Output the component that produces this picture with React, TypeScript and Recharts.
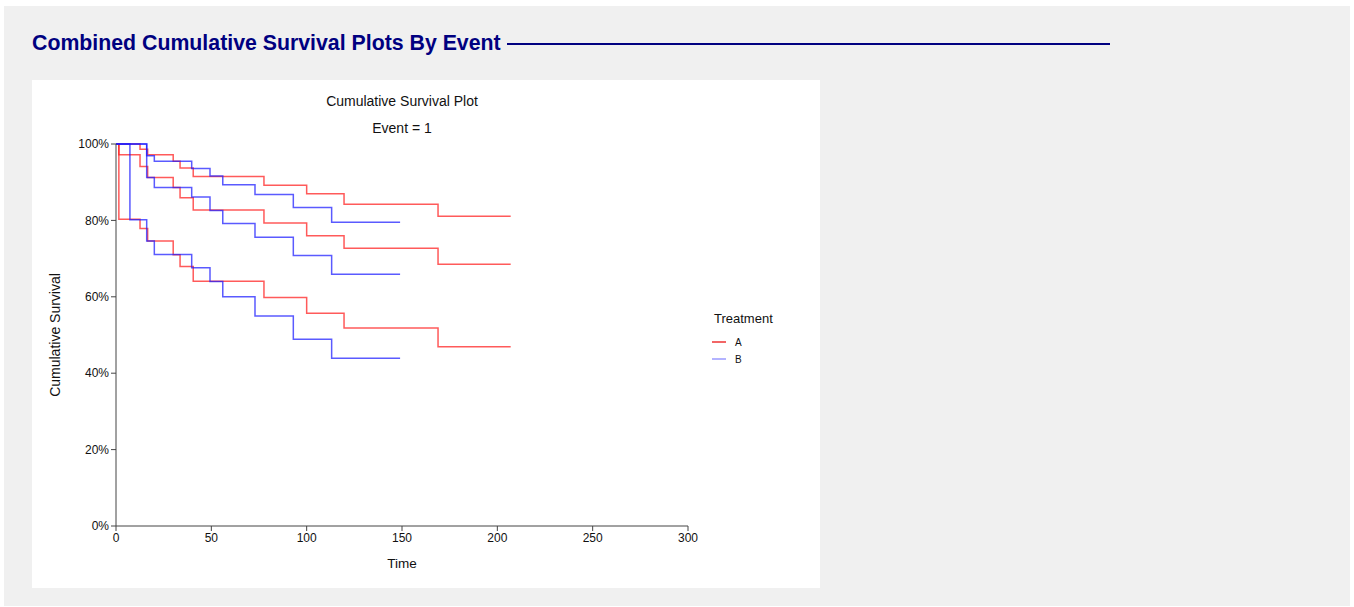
import React from "react"
import { LineChart, Line, XAxis, YAxis } from "recharts"

// Treatment A: event times and three survival curves (percent)
const timesA = [0, 1.5, 12.6, 16.6, 30, 33.6, 40.5, 77.6, 100, 119.6, 168.9, 207]
const aUpper = [100, 100, 98.6, 97.2, 95.5, 93.7, 91.5, 89.2, 87.0, 84.2, 81.1, 81.1]
const aMiddle = [100, 97.2, 94.1, 91.2, 88.6, 85.9, 82.7, 79.3, 76.0, 72.7, 68.5, 68.5]
const aLower = [100, 80.3, 77.9, 74.6, 71.0, 67.9, 64.1, 59.8, 55.7, 51.8, 46.9, 46.9]

// Treatment B
const timesB = [0, 7.3, 16.1, 20.1, 39.7, 49.3, 56, 72.9, 93, 113.1, 149]
const bUpper = [100, 100, 96.9, 95.5, 93.6, 91.6, 89.3, 86.8, 83.4, 79.5, 79.5]
const bMiddle = [100, 100, 91.2, 88.6, 86.1, 82.6, 79.2, 75.6, 70.8, 65.9, 65.9]
const bLower = [100, 80.2, 74.6, 71.1, 67.6, 64.0, 60.0, 55.0, 48.9, 43.9, 43.9]

const xTicks = [0, 50, 100, 150, 200, 250, 300]
const yTicks = [0, 20, 40, 60, 80, 100]
const treatments = ["A", "B"]

const RED = "#ff1a1a"
const BLUE = "#1a1aff"
const FONT = "Arial, 'Liberation Sans', sans-serif"

const toPoints = (times: number[], vals: number[]) =>
  times.map((t, i) => ({ t, s: vals[i] }))

const curves = [
  { id: "aUpper", data: toPoints(timesA, aUpper), color: RED },
  { id: "aMiddle", data: toPoints(timesA, aMiddle), color: RED },
  { id: "aLower", data: toPoints(timesA, aLower), color: RED },
  { id: "bUpper", data: toPoints(timesB, bUpper), color: BLUE },
  { id: "bMiddle", data: toPoints(timesB, bMiddle), color: BLUE },
  { id: "bLower", data: toPoints(timesB, bLower), color: BLUE },
]

const legendColors = ["#ee3333", "#9a9aff"]

export default function App() {
  const tick = { fill: "#111", fontSize: 12, fontFamily: FONT }
  return (
    <div
      style={{
        position: "absolute",
        left: 4,
        top: 6,
        width: 1346,
        height: 600,
        background: "#f0f0f0",
        fontFamily: FONT,
      }}
    >
      <div
        style={{
          position: "absolute",
          left: 28,
          top: 25,
          fontSize: 21.3,
          fontWeight: "bold",
          color: "#000080",
          whiteSpace: "nowrap",
        }}
      >
        Combined Cumulative Survival Plots By Event
      </div>
      <div
        style={{
          position: "absolute",
          left: 503,
          top: 37,
          width: 603,
          height: 2,
          background: "#000080",
        }}
      />
      <div
        style={{
          position: "absolute",
          left: 28,
          top: 74,
          width: 788,
          height: 508,
          background: "#fff",
        }}
      >
        <LineChart
          width={788}
          height={508}
          margin={{ top: 64, right: 132, bottom: 32, left: 24 }}
        >
          <XAxis
            type="number"
            dataKey="t"
            domain={[0, 300]}
            ticks={xTicks}
            allowDuplicatedCategory={false}
            stroke="#444"
            tick={tick}
            tickSize={5}
            height={30}
          />
          <YAxis
            type="number"
            dataKey="s"
            domain={[0, 100]}
            ticks={yTicks}
            tickFormatter={(v: number) => `${v}%`}
            stroke="#444"
            tick={tick}
            tickSize={5}
            width={60}
          />
          {curves.map((c) => (
            <Line
              key={c.id}
              data={c.data}
              dataKey="s"
              type="stepAfter"
              stroke={c.color}
              strokeOpacity={0.72}
              strokeWidth={1.5}
              dot={false}
              isAnimationActive={false}
            />
          ))}
        </LineChart>
        <div style={{ position: "absolute", left: 0, width: 740, top: 13, textAlign: "center", fontSize: 14, color: "#111" }}>
          Cumulative Survival Plot
        </div>
        <div style={{ position: "absolute", left: 0, width: 740, top: 40, textAlign: "center", fontSize: 14, color: "#111" }}>
          Event = 1
        </div>
        <div style={{ position: "absolute", left: 0, width: 740, top: 476, textAlign: "center", fontSize: 13.5, color: "#111" }}>
          Time
        </div>
        <div
          style={{
            position: "absolute",
            left: 23,
            top: 255,
            transform: "translate(-50%, -50%) rotate(-90deg)",
            fontSize: 14,
            color: "#111",
            whiteSpace: "nowrap",
          }}
        >
          Cumulative Survival
        </div>
        <div style={{ position: "absolute", left: 682, top: 231, fontSize: 13, color: "#111" }}>
          Treatment
        </div>
        {treatments.map((name, i) => (
          <div
            key={name}
            style={{ position: "absolute", left: 680, top: 256 + i * 17, height: 12, display: "flex", alignItems: "center", fontSize: 10, color: "#111" }}
          >
            <svg width={14} height={4} style={{ marginRight: 9 }}>
              <line x1={0} y1={2} x2={14} y2={2} stroke={legendColors[i]} strokeWidth={1.5} />
            </svg>
            <span>{name}</span>
          </div>
        ))}
      </div>
    </div>
  )
}
